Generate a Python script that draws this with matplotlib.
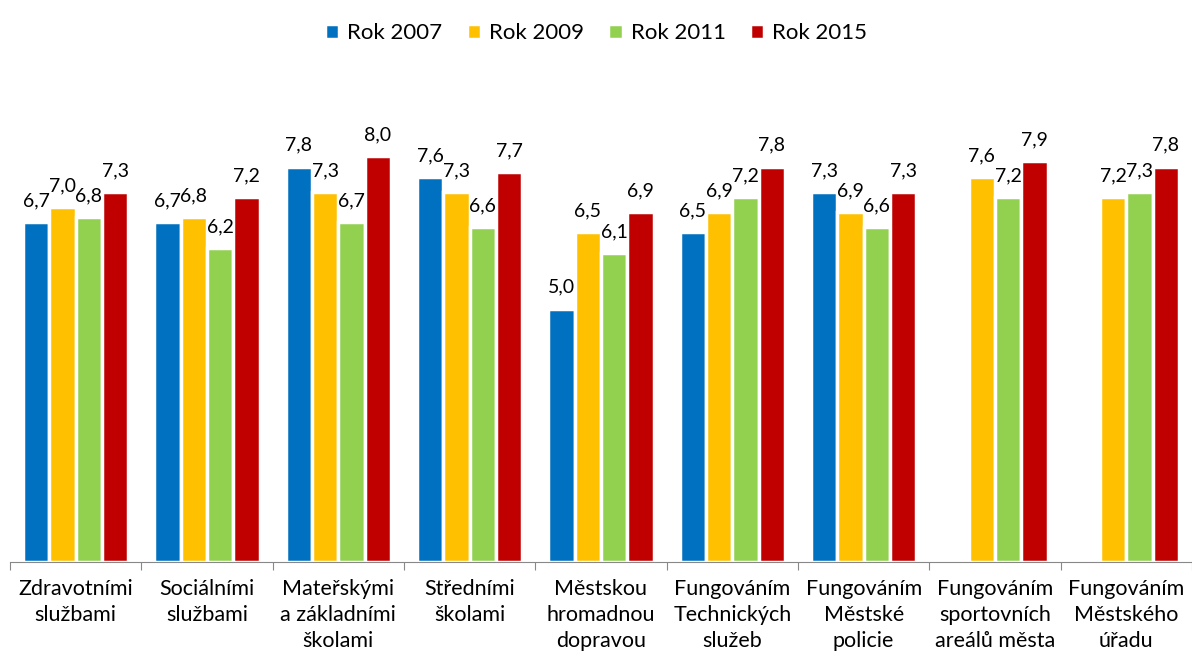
import matplotlib.pyplot as plt
import numpy as np

plt.rcParams['font.family'] = ['Lato', 'DejaVu Sans']

categories = ["Zdravotními\nslužbami", "Sociálními\nslužbami", "Mateřskými\na základními\nškolami",
              "Středními\nškolami", "Městskou\nhromadnou\ndopravou", "Fungováním\nTechnických\nslužeb",
              "Fungováním\nMěstské\npolicie", "Fungováním\nsportovních\nareálů města",
              "Fungováním\nMěstského\núřadu"]
series = ["Rok 2007", "Rok 2009", "Rok 2011", "Rok 2015"]
rok_2007 = [6.7, 6.7, 7.8, 7.6, 5.0, 6.5, 7.3, np.nan, np.nan]
rok_2009 = [7.0, 6.8, 7.3, 7.3, 6.5, 6.9, 6.9, 7.6, 7.2]
rok_2011 = [6.8, 6.2, 6.7, 6.6, 6.1, 7.2, 6.6, 7.2, 7.3]
rok_2015 = [7.3, 7.2, 8.0, 7.7, 6.9, 7.8, 7.3, 7.9, 7.8]
colors = ["#0070C0", "#FFC000", "#92D050", "#C00000"]

fig = plt.figure(figsize=(11.92, 6.62), dpi=100)
ax = fig.add_axes([10 / 1192, 100 / 662, 1182 / 1192, 507 / 662])

x = np.arange(len(categories))
w = 0.2
for i, (vals, name, c) in enumerate(zip([rok_2007, rok_2009, rok_2011, rok_2015], series, colors)):
    pos = x + (i - 1.5) * w
    ax.bar(pos, vals, w, color=c, edgecolor="white", linewidth=2.5, label=name)
    for p, v in zip(pos, vals):
        if not np.isnan(v):
            ax.text(p, v + 0.25, f"{v:.1f}".replace(".", ","), ha="center", va="bottom", fontsize=14)

ax.set_xlim(-0.5, len(categories) - 0.5)
ax.set_ylim(0, 10)
ax.set_yticks([])
for s in ["top", "right", "left"]:
    ax.spines[s].set_visible(False)
ax.spines["bottom"].set_color("#888888")
ax.set_xticks(np.arange(len(categories) + 1) - 0.5)
ax.set_xticklabels([])
ax.tick_params(axis="x", length=6, color="#888888")
for xi, lab in zip(x, categories):
    ax.text(xi, -0.34, lab, ha="center", va="top", fontsize=15.5, linespacing=1.38,
            transform=ax.transData)

fig.legend(loc="upper center", bbox_to_anchor=(0.5, 0.995), ncol=4, frameon=False,
           fontsize=16, handlelength=0.65, handleheight=0.7, handletextpad=0.35, columnspacing=1.1)

fig.savefig("out.png", dpi=100)
